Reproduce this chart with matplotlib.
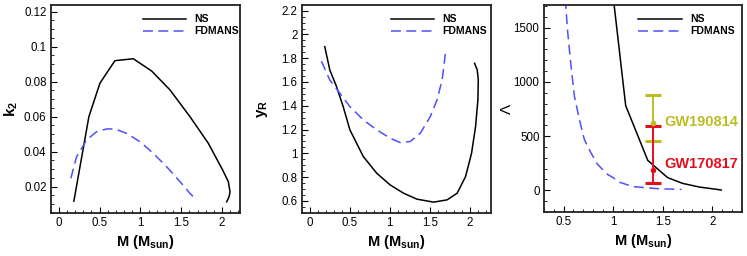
import matplotlib
matplotlib.use('Agg')
import matplotlib.pyplot as plt
from matplotlib.ticker import MultipleLocator

plt.rcParams['font.family'] = ['Liberation Sans', 'DejaVu Sans']
plt.rcParams['mathtext.fontset'] = 'custom'
plt.rcParams['mathtext.rm'] = 'Liberation Sans'
plt.rcParams['mathtext.it'] = 'Liberation Sans'
plt.rcParams['mathtext.bf'] = 'Liberation Sans:bold'

# ---- data ----
# panel 1: tidal Love number k2
ns_k2_m = [0.184, 0.368, 0.503, 0.687, 0.912, 1.137, 1.362, 1.607, 1.832, 2.008, 2.077, 2.098, 2.086, 2.057]
ns_k2 = [0.0118, 0.060, 0.0791, 0.092, 0.0931, 0.0861, 0.0753, 0.060, 0.0448, 0.0295, 0.0229, 0.0171, 0.0143, 0.0114]
fd_k2_m = [0.147, 0.217, 0.340, 0.462, 0.585, 0.687, 0.831, 0.994, 1.157, 1.321, 1.485, 1.607, 1.690]
fd_k2 = [0.0248, 0.0371, 0.0467, 0.0514, 0.0530, 0.0530, 0.0505, 0.0457, 0.0391, 0.0314, 0.0229, 0.0162, 0.0124]

# panel 2: y_R
ns_yr_m = [0.188, 0.251, 0.335, 0.418, 0.502, 0.669, 0.837, 1.004, 1.172, 1.339, 1.548, 1.715, 1.841, 1.946,
           2.021, 2.071, 2.100, 2.105, 2.092, 2.059]
ns_yr = [1.897, 1.701, 1.561, 1.393, 1.197, 0.973, 0.832, 0.734, 0.664, 0.614, 0.589, 0.608, 0.664, 0.804,
         1.001, 1.225, 1.449, 1.617, 1.701, 1.757]
fd_yr_m = [0.146, 0.251, 0.377, 0.502, 0.669, 0.837, 1.004, 1.130, 1.255, 1.381, 1.506, 1.590, 1.653, 1.695]
fd_yr = [1.776, 1.617, 1.505, 1.393, 1.281, 1.197, 1.127, 1.090, 1.099, 1.169, 1.309, 1.449, 1.617, 1.841]

# panel 3: tidal deformability Lambda
ns_lam_m = [1.00, 1.127, 1.35, 1.55, 1.70, 1.87, 2.09]
ns_lam = [1790, 780, 275, 117, 64, 30, 3]
fd_lam_m = [0.51, 0.543, 0.576, 0.61, 0.66, 0.71, 0.776, 0.843, 0.943, 1.0, 1.06, 1.2, 1.45, 1.69]
fd_lam = [1850, 1448, 1142, 866, 652, 468, 346, 239, 147, 117, 76, 34, 15, 8]

# observational constraints
gw_names = ['GW190814', 'GW170817']
gw_mass = [1.4, 1.4]
gw_lam = [616, 190]
gw_lo = [166, 120]
gw_hi = [260, 400]
gw_colors = ['#bcbd22', '#e3101c']
gw_text_pos = [(1.52, 634), (1.52, 239)]

ns_color = 'black'
fd_color = '#4f4fff'

W, H = 747, 256
fig = plt.figure(figsize=(W / 100, H / 100), dpi=100)


def add_ax(l, r, t, b):
    return fig.add_axes([l / W, (H - b) / H, (r - l) / W, (b - t) / H])


ax1 = add_ax(50.7, 240, 5, 213)
ax2 = add_ax(301.7, 490.7, 5, 212.7)
ax3 = add_ax(543.7, 742, 5, 212)

dash = (0, (6.5, 3.5))
for ax, (nm, nv, fm, fv) in zip(
        [ax1, ax2, ax3],
        [(ns_k2_m, ns_k2, fd_k2_m, fd_k2),
         (ns_yr_m, ns_yr, fd_yr_m, fd_yr),
         (ns_lam_m, ns_lam, fd_lam_m, fd_lam)]):
    ax.plot(nm, nv, color=ns_color, lw=1.1, label='NS')
    ax.plot(fm, fv, color=fd_color, lw=1.1, ls=dash, label='FDMANS')

for name, m, lam, lo, hi, c, pos in zip(gw_names, gw_mass, gw_lam, gw_lo, gw_hi, gw_colors, gw_text_pos):
    ax3.errorbar([m], [lam], yerr=[[lo], [hi]], fmt='o', ms=3, color=c, ecolor=c,
                 elinewidth=1.4, capsize=5.5, capthick=2.2)
    ax3.text(pos[0], pos[1], name, color=c, fontsize=10.5, fontweight='bold', va='center', ha='left')

# limits & ticks
ax1.set_xlim(-0.1, 2.22)
ax1.set_ylim(0.005, 0.1238)
ax1.xaxis.set_minor_locator(MultipleLocator(0.1))
ax1.yaxis.set_minor_locator(MultipleLocator(0.005))
ax1.set_yticks([0.02, 0.04, 0.06, 0.08, 0.1, 0.12])
ax1.set_yticklabels(['0.02', '0.04', '0.06', '0.08', '0.1', '0.12'])
ax1.set_xticks([0, 0.5, 1, 1.5, 2])
ax1.set_xticklabels(['0', '0.5', '1', '1.5', '2'])

ax2.set_xlim(-0.1, 2.26)
ax2.set_ylim(0.5, 2.248)
ax2.xaxis.set_minor_locator(MultipleLocator(0.1))
ax2.yaxis.set_minor_locator(MultipleLocator(0.05))
ax2.set_yticks([0.6, 0.8, 1.0, 1.2, 1.4, 1.6, 1.8, 2.0, 2.2])
ax2.set_yticklabels(['0.6', '0.8', '1', '1.2', '1.4', '1.6', '1.8', '2', '2.2'])
ax2.set_xticks([0, 0.5, 1, 1.5, 2])
ax2.set_xticklabels(['0', '0.5', '1', '1.5', '2'])

ax3.set_xlim(0.3, 2.3)
ax3.set_ylim(-200, 1708)
ax3.xaxis.set_minor_locator(MultipleLocator(0.1))
ax3.yaxis.set_minor_locator(MultipleLocator(100))
ax3.set_yticks([0, 500, 1000, 1500])
ax3.set_xticks([0.5, 1, 1.5, 2])
ax3.set_xticklabels(['0.5', '1', '1.5', '2'])

ax1.set_ylabel(r'$\mathbf{k_2}$', fontsize=11)
ax2.set_ylabel(r'$\mathbf{y_R}$', fontsize=11)
ax3.set_ylabel('Λ', fontsize=11)

legend_x = [0.996, 0.982, 0.965]
for ax, lx in zip([ax1, ax2, ax3], legend_x):
    ax.set_xlabel(r'$\mathbf{M\ (M_{sun})}$', fontsize=10.5, labelpad=3)
    ax.tick_params(which='both', direction='in', top=False, right=False, labelsize=8.3, pad=3)
    ax.tick_params(which='major', length=4.5, width=0.8)
    ax.tick_params(which='minor', length=2.5, width=0.6)
    for s in ax.spines.values():
        s.set_linewidth(1.3)
        s.set_color('#222222')
    ax.legend(loc='upper right', bbox_to_anchor=(lx, 0.955), frameon=False,
              borderaxespad=0, borderpad=0, handlelength=4.2, handletextpad=0.8,
              labelspacing=0.2, prop={'weight': 'bold', 'size': 7.5})

ax1.yaxis.set_label_coords(-0.16, 0.5)
ax2.yaxis.set_label_coords(-0.17, 0.5)
ax3.yaxis.set_label_coords(-0.15, 0.5)

fig.savefig('out.png', dpi=100)
